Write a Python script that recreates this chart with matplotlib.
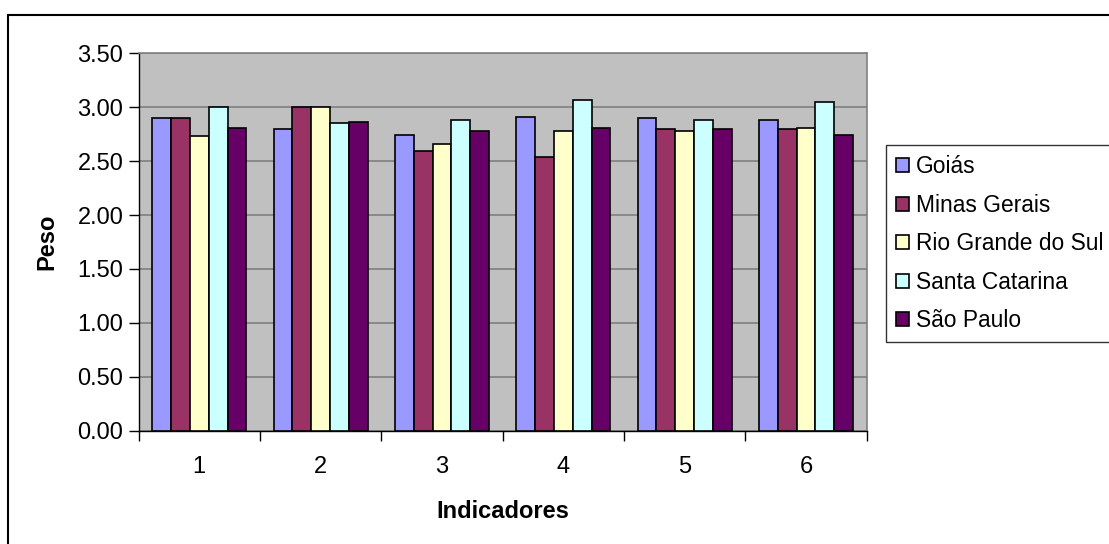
import numpy as np
import matplotlib
matplotlib.use("Agg")
import matplotlib.pyplot as plt
from matplotlib.patches import Rectangle

plt.rcParams['font.family'] = ['Liberation Sans', 'DejaVu Sans']

indicadores = ['1', '2', '3', '4', '5', '6']
estados = ['Goiás', 'Minas Gerais', 'Rio Grande do Sul', 'Santa Catarina', 'São Paulo']
goias = [2.90, 2.80, 2.74, 2.91, 2.90, 2.88]
minas = [2.90, 3.00, 2.59, 2.54, 2.80, 2.80]
rio_grande = [2.73, 3.00, 2.66, 2.78, 2.78, 2.81]
santa_catarina = [3.00, 2.85, 2.88, 3.07, 2.88, 3.05]
sao_paulo = [2.81, 2.86, 2.78, 2.81, 2.80, 2.74]
cores = ['#9999FF', '#993366', '#FFFFCC', '#CCFFFF', '#660066']

series = [goias, minas, rio_grande, santa_catarina, sao_paulo]

fig = plt.figure(figsize=(11.09, 5.44), dpi=100)
ax = fig.add_axes([0.125, 0.2083, 0.6565, 0.6937])
ax.set_facecolor('#C0C0C0')

x = np.arange(len(indicadores))
w = 0.155
for i, (vals, nome, cor) in enumerate(zip(series, estados, cores)):
    ax.bar(x + (i - 2) * w, vals, width=w, color=cor, edgecolor='black',
           linewidth=1.2, label=nome, zorder=3)

ax.set_xlim(-0.5, len(indicadores) - 0.5)
ax.set_ylim(0, 3.5)
ax.set_yticks(np.arange(0, 3.51, 0.5))
ax.set_yticklabels([f'{v:.2f}' for v in np.arange(0, 3.51, 0.5)])
ax.yaxis.grid(True, color='#808080', linewidth=1.2, zorder=0)
ax.set_axisbelow(True)

ax.set_xticks(x)
ax.set_xticklabels(indicadores)
ax.set_xticks(np.arange(-0.5, len(indicadores)), minor=True)
ax.tick_params(axis='x', which='major', length=0, pad=18, labelsize=17)
ax.tick_params(axis='x', which='minor', length=7, width=1, direction='out')
ax.tick_params(axis='y', length=7, width=1, direction='out', labelsize=17, pad=4)

for s in ['top', 'right']:
    ax.spines[s].set_color('#808080')
    ax.spines[s].set_linewidth(1.2)
for s in ['left', 'bottom']:
    ax.spines[s].set_color('black')
    ax.spines[s].set_linewidth(1)

ax.set_xlabel('Indicadores', fontsize=17, fontweight='bold', labelpad=16)
ax.set_ylabel('Peso', fontsize=17, fontweight='bold', labelpad=14)

# moldura externa do gráfico
fig.patches.append(Rectangle((8 / 1109, -0.1), 1.2, 1 - 15 / 544 + 0.1,
                             transform=fig.transFigure, fill=False,
                             edgecolor='black', linewidth=1.5))

leg = fig.legend(loc='upper left', bbox_to_anchor=(886 / 1109, 1 - 145 / 544),
                 fontsize=16.4, frameon=True, fancybox=False, edgecolor='black',
                 handlelength=0.58, handleheight=0.58, handletextpad=0.28,
                 labelspacing=0.68, borderpad=0.45, borderaxespad=0)
leg.get_frame().set_linewidth(1)

fig.savefig('out.png', dpi=100)
